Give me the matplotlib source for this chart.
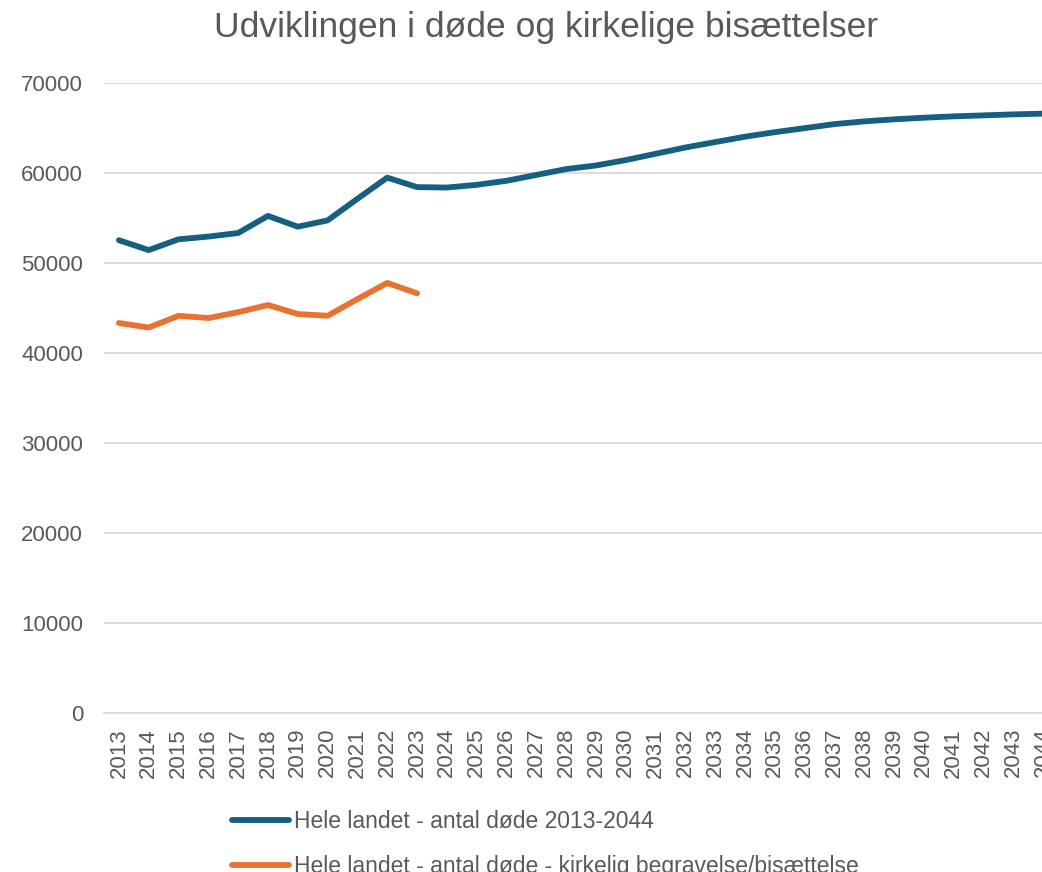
import matplotlib
matplotlib.use("Agg")
import matplotlib.pyplot as plt
from matplotlib.lines import Line2D

years = list(range(2013, 2045))
deaths_total = [52500, 51400, 52600, 52900, 53300, 55200, 54000, 54700, 57100, 59450,
                58400, 58350, 58650, 59100, 59750, 60400, 60800, 61400, 62100, 62800,
                63400, 64000, 64500, 64950, 65400, 65700, 65930, 66110, 66260, 66370,
                66480, 66560]
deaths_church = [43300, 42800, 44100, 43850, 44500, 45300, 44300, 44100, 45950, 47750, 46600]

label_total = "Hele landet - antal døde 2013-2044"
label_church = "Hele landet - antal døde - kirkelig begravelse/bisættelse"
title = "Udviklingen i døde og kirkelige bisættelser"

blue = "#156082"
orange = "#E97132"
grid_c = "#D9D9D9"
text_c = "#595959"

W, H = 1042, 872
fig = plt.figure(figsize=(W / 100, H / 100), dpi=100)
ax = fig.add_axes([104 / W, (H - 712.7) / H, 954 / W, 630 / H])

x_total = list(range(len(deaths_total)))
x_church = list(range(len(deaths_church)))
ax.plot(x_total, deaths_total, color=blue, lw=4.2, solid_capstyle="round", solid_joinstyle="round")
ax.plot(x_church, deaths_church, color=orange, lw=4.2, solid_capstyle="round", solid_joinstyle="round")

ax.set_xlim(-0.5, len(years) - 0.5)
ax.set_ylim(0, 70000)
ax.set_yticks(range(0, 70001, 10000))
ax.set_yticklabels([str(v) for v in range(0, 70001, 10000)])
ax.set_xticks(range(len(years)))
ax.set_xticklabels([str(y) for y in years], rotation=90)

ax.grid(axis="y", color=grid_c, lw=1.3)
ax.set_axisbelow(True)
for s in ["top", "right", "left"]:
    ax.spines[s].set_visible(False)
ax.spines["bottom"].set_color(grid_c)
ax.spines["bottom"].set_linewidth(1.3)
ax.tick_params(axis="both", length=0, labelsize=16, labelcolor=text_c)
ax.tick_params(axis="y", pad=15)
ax.tick_params(axis="x", pad=11)
for t in ax.get_xticklabels() + ax.get_yticklabels():
    t.set_fontfamily(["Liberation Sans", "DejaVu Sans"])

fig.text(546 / W, 1 - 27 / H, title, ha="center", va="center", fontsize=25.5,
         color=text_c, family=["Liberation Sans Narrow", "Liberation Sans", "DejaVu Sans"])

handles = [Line2D([0], [0], color=blue, lw=4.2, solid_capstyle="round"),
           Line2D([0], [0], color=orange, lw=4.2, solid_capstyle="round")]
leg = fig.legend(handles, [label_total, label_church], loc="upper left",
                 bbox_to_anchor=(232 / W, 1 - 810 / H), frameon=False,
                 borderpad=0, borderaxespad=0,
                 handlelength=2.5, handletextpad=0.2, labelspacing=0.95,
                 prop={"family": ["Liberation Sans Narrow", "Liberation Sans", "DejaVu Sans"], "size": 16.5})
for t in leg.get_texts():
    t.set_color(text_c)

fig.savefig("out.png", dpi=100)
